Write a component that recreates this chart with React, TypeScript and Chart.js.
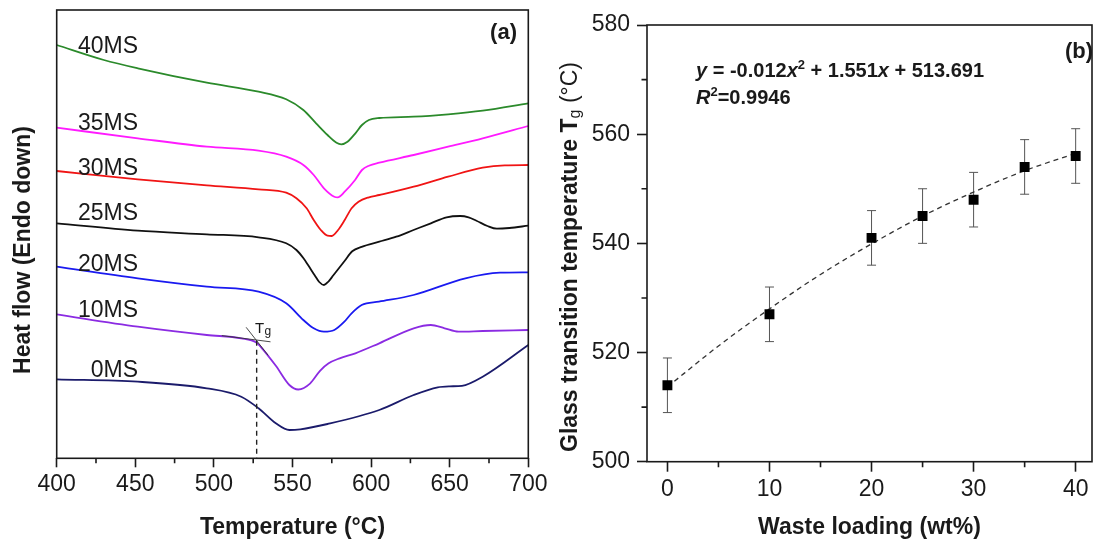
import React, { useEffect, useRef } from "react";
import { Chart, registerables } from "chart.js";

Chart.register(...registerables);

const FONT = "'Liberation Sans', Arial, Helvetica, sans-serif";
const INK = "#1a1a1a";

// ---------- Panel (a): DSC curves (heat flow in arbitrary units, offset) ----------
const TEMP_TICKS = [400, 450, 500, 550, 600, 650, 700];
const TEMP_MINOR = [425, 475, 525, 575, 625, 675];
const curveNames = ["40MS", "35MS", "30MS", "25MS", "20MS", "10MS", "0MS"];

const t40 = [400, 430, 451.6, 495.5, 528.4, 546, 556.9, 565, 572.3, 578, 581, 585, 590, 594.2, 598.6, 605.2, 627, 649, 671, 700];
const h40 = [413.3, 398.3, 390, 375.6, 366.6, 359, 348.3, 335, 323.3, 315.6, 314, 316.6, 325, 333.3, 338.3, 340.3, 341.6, 344, 347.6, 355];

const t35 = [400, 451.6, 495.5, 528.4, 546, 556.9, 563.5, 570, 576.6, 578.8, 583.2, 589.8, 594.2, 598.6, 605.2, 627.1, 649, 671, 700];
const h35 = [330.6, 320, 311.6, 307.6, 301.6, 293.3, 283.3, 270, 261.6, 261, 266.6, 278.3, 288.3, 292.6, 295.6, 303.3, 311.6, 320, 332.3];

const t30 = [400, 451.6, 495.5, 528.4, 546, 552.5, 559, 563.5, 568, 572.3, 575, 579, 583.2, 587.6, 592, 598.6, 605.2, 627.1, 649, 671, 685, 700];
const h30 = [287.3, 279, 273, 269, 265.6, 260, 250, 238.3, 228.3, 222.6, 222.3, 228.3, 238.3, 250, 256.6, 261, 263.3, 271.6, 281.6, 290.6, 293, 293.3];

const t25 = [400, 451.6, 495.5, 528.4, 546, 552.5, 557, 560, 564, 567, 570, 573, 576, 580, 583, 588, 594, 605.2, 616, 627, 638, 648, 656.7, 662, 667, 674, 680, 688, 700];
const h25 = [235, 227.6, 224, 221, 215, 208.3, 200, 193, 183.3, 176.3, 173.3, 177, 183, 191, 197, 207, 211.5, 216.6, 221.6, 228.3, 235, 241, 242.3, 241, 237.6, 232.3, 229.6, 230.3, 232.6];

const t20 = [400, 451.6, 495.5, 528.4, 546, 556.9, 563.5, 570, 576.6, 583, 587.6, 594, 605, 627, 660, 682, 700];
const h20 = [191.6, 180, 171.6, 166.6, 155, 138.3, 130, 126.6, 128.3, 136.6, 145, 153.3, 156.6, 163.3, 180, 185.6, 186];

const t10 = [400, 451.6, 495.5, 517.4, 527, 530.6, 539.4, 548, 553.7, 561.3, 567.5, 573, 580, 590, 605.2, 627.1, 638, 646.8, 655.6, 671, 700];
const h10 = [144, 131.6, 123.3, 120, 115.8, 110, 92.5, 73.3, 68.8, 75, 87.5, 95, 100, 105, 115, 130, 133.3, 130, 126.6, 127.3, 128.3];

const t0 = [400, 451.6, 495.5, 517.4, 528.4, 539.4, 548, 555, 572.3, 605.2, 627.1, 642.4, 650, 657.8, 671, 700];
const h0 = [79, 76.6, 70, 61.6, 50, 35, 28.3, 29, 34.3, 48.3, 63.3, 71, 72, 72.5, 81.6, 113.3];

// Tg construction (onset tangents and drop line)
const tanA_T = [505, 536];
const tanA_H = [122.7, 116.5];
const tanB_T = [520.5, 534.5];
const tanB_H = [131, 103];
const drop_T = [527.2, 527.2];
const drop_H = [117.6, 0];

// ---------- Panel (b): Tg vs waste loading ----------
const wasteLoading = [0, 10, 20, 25, 30, 35, 40];
const tgValues = [514, 527, 541, 545, 548, 554, 556];
const tgErrors = [5, 5, 5, 5, 5, 5, 5];
const fitX = [0, 5, 10, 15, 20, 25, 30, 35, 40];
const fitY = [513.7, 521.2, 528.0, 534.3, 539.9, 545.0, 549.4, 553.3, 556.5];
const LOAD_TICKS = [0, 10, 20, 30, 40];
const LOAD_MINOR = [5, 15, 25, 35];
const TG_TICKS = [500, 520, 540, 560, 580];
const TG_MINOR = [510, 530, 550, 570];

const pts = (xs: number[], ys: number[]) => xs.map((x, i) => ({ x, y: ys[i] }));

const curveColors = ["#2b8a2b", "#ff1aff", "#f01414", "#111111", "#1a1af0", "#8b2be2", "#1b1b6b"];
const curveT = [t40, t35, t30, t25, t20, t10, t0];
const curveH = [h40, h35, h30, h25, h20, h10, h0];

type Run = { t: string; font: string; dy?: number };
function drawRuns(ctx: CanvasRenderingContext2D, x: number, y: number, runs: Run[]) {
  let cx = x;
  for (const r of runs) {
    ctx.font = r.font;
    ctx.fillText(r.t, cx, y + (r.dy || 0));
    cx += ctx.measureText(r.t).width;
  }
  return cx - x;
}
function runsWidth(ctx: CanvasRenderingContext2D, runs: Run[]) {
  let w = 0;
  for (const r of runs) {
    ctx.font = r.font;
    w += ctx.measureText(r.t).width;
  }
  return w;
}

const annotA = {
  id: "annotA",
  afterDraw(chart: any) {
    const { ctx, chartArea: ca, scales } = chart;
    const x = scales.x;
    ctx.save();
    ctx.strokeStyle = INK;
    ctx.lineWidth = 1.6;
    ctx.strokeRect(ca.left, ca.top, ca.right - ca.left, ca.bottom - ca.top);
    ctx.beginPath();
    TEMP_MINOR.forEach((v) => {
      const px = x.getPixelForValue(v);
      ctx.moveTo(px, ca.bottom);
      ctx.lineTo(px, ca.bottom + 5);
    });
    ctx.stroke();

    ctx.fillStyle = INK;
    ctx.textBaseline = "alphabetic";
    ctx.textAlign = "right";
    ctx.font = `23px ${FONT}`;
    const baselines = [53, 130, 175, 220, 271, 317, 377];
    curveNames.forEach((n, i) => ctx.fillText(n, 138, baselines[i]));

    ctx.font = `bold 22px ${FONT}`;
    ctx.fillText("(a)", 517, 39);

    ctx.textAlign = "left";
    ctx.font = `15px ${FONT}`;
    ctx.fillText("T", 255, 333);
    ctx.font = `12px ${FONT}`;
    ctx.fillText("g", 264.5, 335);

    ctx.textAlign = "center";
    ctx.font = `bold 23px ${FONT}`;
    ctx.fillText("Temperature (°C)", (ca.left + ca.right) / 2, 534);

    ctx.save();
    ctx.translate(24, 250);
    ctx.rotate(-Math.PI / 2);
    ctx.textBaseline = "middle";
    ctx.fillText("Heat flow (Endo down)", 0, 0);
    ctx.restore();
    ctx.restore();
  },
};

const annotB = {
  id: "annotB",
  beforeDatasetsDraw(chart: any) {
    const { ctx, scales } = chart;
    const x = scales.x;
    const y = scales.y;
    ctx.save();
    ctx.strokeStyle = "#555";
    ctx.lineWidth = 1;
    ctx.beginPath();
    wasteLoading.forEach((w, i) => {
      const px = x.getPixelForValue(w);
      const top = y.getPixelForValue(tgValues[i] + tgErrors[i]);
      const bot = y.getPixelForValue(tgValues[i] - tgErrors[i]);
      ctx.moveTo(px, top);
      ctx.lineTo(px, bot);
      ctx.moveTo(px - 4.5, top);
      ctx.lineTo(px + 4.5, top);
      ctx.moveTo(px - 4.5, bot);
      ctx.lineTo(px + 4.5, bot);
    });
    ctx.stroke();
    ctx.restore();
  },
  afterDraw(chart: any) {
    const { ctx, chartArea: ca, scales } = chart;
    const x = scales.x;
    const y = scales.y;
    ctx.save();
    ctx.strokeStyle = INK;
    ctx.lineWidth = 1.6;
    ctx.strokeRect(ca.left, ca.top, ca.right - ca.left, ca.bottom - ca.top);
    ctx.beginPath();
    LOAD_MINOR.forEach((v) => {
      const px = x.getPixelForValue(v);
      ctx.moveTo(px, ca.bottom);
      ctx.lineTo(px, ca.bottom + 5.5);
    });
    TG_MINOR.forEach((v) => {
      const py = y.getPixelForValue(v);
      ctx.moveTo(ca.left, py);
      ctx.lineTo(ca.left - 5.5, py);
    });
    ctx.stroke();

    ctx.fillStyle = INK;
    ctx.textBaseline = "alphabetic";
    ctx.textAlign = "left";
    const b = `bold 20px ${FONT}`;
    const bi = `italic bold 20px ${FONT}`;
    const sup = `bold 13px ${FONT}`;
    drawRuns(ctx, 151, 77, [
      { t: "y", font: bi },
      { t: " = -0.012", font: b },
      { t: "x", font: bi },
      { t: "2", font: sup, dy: -8 },
      { t: " + 1.551", font: b },
      { t: "x", font: bi },
      { t: " + 513.691", font: b },
    ]);
    drawRuns(ctx, 151, 104, [
      { t: "R", font: bi },
      { t: "2", font: sup, dy: -8 },
      { t: "=0.9946", font: b },
    ]);

    ctx.textAlign = "right";
    ctx.font = `bold 22px ${FONT}`;
    ctx.fillText("(b)", 548, 58);

    ctx.textAlign = "center";
    ctx.font = `bold 23px ${FONT}`;
    ctx.fillText("Waste loading (wt%)", (ca.left + ca.right) / 2, 534);

    const titleRuns: Run[] = [
      { t: "Glass transition temperature T", font: `bold 23px ${FONT}` },
      { t: "g", font: `16px ${FONT}`, dy: 5 },
      { t: " (°C)", font: `23px ${FONT}` },
    ];
    ctx.save();
    ctx.textAlign = "left";
    ctx.textBaseline = "middle";
    const w = runsWidth(ctx, titleRuns);
    ctx.translate(26, 257 + w / 2);
    ctx.rotate(-Math.PI / 2);
    drawRuns(ctx, 0, 0, titleRuns);
    ctx.restore();
    ctx.restore();
  },
};

export default function App() {
  const refA = useRef<HTMLCanvasElement>(null);
  const refB = useRef<HTMLCanvasElement>(null);

  useEffect(() => {
    const curveSets: any[] = curveNames.map((n, i) => ({
      label: n,
      data: pts(curveT[i], curveH[i]),
      borderColor: curveColors[i],
      borderWidth: 1.8,
      pointRadius: 0,
      cubicInterpolationMode: "monotone",
      fill: false,
    }));
    const thin = (xs: number[], ys: number[], label: string, dash: number[] = [], w = 0.9, col = "#333") => ({
      label,
      data: pts(xs, ys),
      borderColor: col,
      borderWidth: w,
      borderDash: dash,
      pointRadius: 0,
      tension: 0,
      fill: false,
    });

    const chartA = new Chart(refA.current as HTMLCanvasElement, {
      type: "line",
      data: {
        datasets: [
          thin(drop_T, drop_H, "drop", [5, 4], 1.4, "#222"),
          thin(tanA_T, tanA_H, "tangent1"),
          thin(tanB_T, tanB_H, "tangent2"),
          ...curveSets,
        ],
      },
      options: {
        responsive: false,
        animation: false,
        events: [],
        layout: { padding: { left: 56.7, top: 10, right: 560 - 528.3, bottom: 0 } },
        plugins: { legend: { display: false }, tooltip: { enabled: false } },
        scales: {
          x: {
            type: "linear",
            min: 400,
            max: 700,
            afterBuildTicks: (s: any) => {
              s.ticks = TEMP_TICKS.map((v) => ({ value: v }));
            },
            afterFit: (s: any) => {
              s.height = 543 - 458.3;
              s.paddingLeft = 0;
              s.paddingRight = 0;
            },
            grid: { drawOnChartArea: false, drawTicks: true, tickLength: 9, tickColor: INK, tickWidth: 1.6 },
            border: { display: false },
            ticks: { font: { family: FONT, size: 23 }, color: INK, padding: 4, maxRotation: 0, autoSkip: false },
          },
          y: { display: false, min: 0, max: 448.3 },
        },
      } as any,
      plugins: [annotA],
    });

    const chartB = new Chart(refB.current as HTMLCanvasElement, {
      type: "line",
      data: {
        datasets: [
          {
            label: "Tg",
            data: pts(wasteLoading, tgValues),
            showLine: false,
            pointStyle: "rect",
            pointRadius: 7,
            pointBackgroundColor: "#000",
            pointBorderWidth: 0,
            borderColor: "#000",
          },
          {
            label: "fit",
            data: pts(fitX, fitY),
            borderColor: "#333",
            borderWidth: 1.3,
            borderDash: [5, 4],
            pointRadius: 0,
            cubicInterpolationMode: "monotone",
            fill: false,
          },
        ],
      },
      options: {
        responsive: false,
        animation: false,
        events: [],
        layout: { padding: { left: 0, top: 25, right: 1, bottom: 0 } },
        plugins: { legend: { display: false }, tooltip: { enabled: false } },
        scales: {
          x: {
            type: "linear",
            min: -2,
            max: 41.6,
            afterBuildTicks: (s: any) => {
              s.ticks = LOAD_TICKS.map((v) => ({ value: v }));
            },
            afterFit: (s: any) => {
              s.height = 543 - 461.7;
              s.paddingLeft = 0;
              s.paddingRight = 0;
            },
            grid: { drawOnChartArea: false, drawTicks: true, tickLength: 10, tickColor: INK, tickWidth: 1.6 },
            border: { display: false },
            ticks: { font: { family: FONT, size: 23 }, color: INK, padding: 4, maxRotation: 0, autoSkip: false },
          },
          y: {
            type: "linear",
            min: 500,
            max: 580,
            afterBuildTicks: (s: any) => {
              s.ticks = TG_TICKS.map((v) => ({ value: v }));
            },
            afterFit: (s: any) => {
              s.width = 102;
              s.paddingTop = 0;
              s.paddingBottom = 0;
            },
            grid: { drawOnChartArea: false, drawTicks: true, tickLength: 10, tickColor: INK, tickWidth: 1.6 },
            border: { display: false },
            ticks: { font: { family: FONT, size: 23 }, color: INK, padding: 7, autoSkip: false },
          },
        },
      } as any,
      plugins: [annotB],
    });

    return () => {
      chartA.destroy();
      chartB.destroy();
    };
  }, []);

  return (
    <div style={{ position: "fixed", left: 0, top: 0, width: 1099, height: 543, background: "#fff" }}>
      <canvas ref={refB} width={554} height={543} style={{ position: "absolute", left: 545, top: 0, width: 554, height: 543 }} />
      <canvas ref={refA} width={560} height={543} style={{ position: "absolute", left: 0, top: 0, width: 560, height: 543 }} />
    </div>
  );
}
